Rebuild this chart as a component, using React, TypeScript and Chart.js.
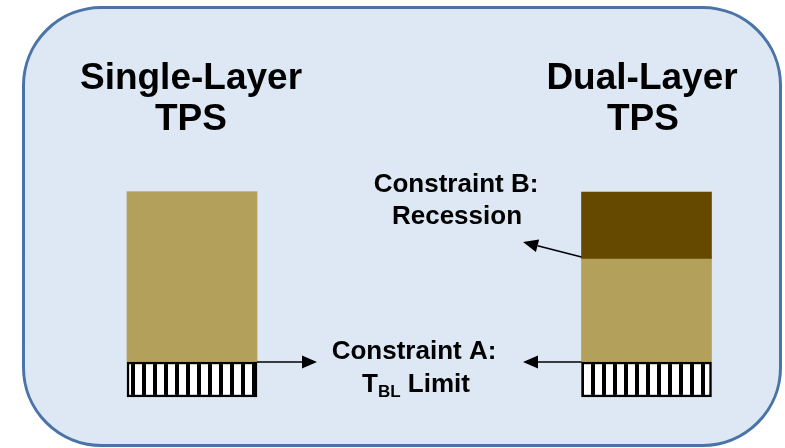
import React, { useEffect, useRef } from "react";
import { Chart, registerables } from "chart.js";

Chart.register(...registerables);

const categories = ["Single-Layer TPS", "Dual-Layer TPS"];
const tblLimit = [3.5, 3.5];
const baseLayer = [17.0, 10.3];
const recessionLayer = [0, 6.7];
const yMax = 39.7;

const FONT = '"Liberation Sans", Arial, sans-serif';

function makeStripes(offset: number): CanvasPattern | string {
  const c = document.createElement("canvas");
  c.width = 11;
  c.height = 4;
  const g = c.getContext("2d");
  if (!g) return "#000";
  g.fillStyle = "#000";
  g.fillRect(0, 0, 11, 4);
  g.fillStyle = "#fff";
  const w = 7;
  g.fillRect(offset, 0, Math.min(w, 11 - offset), 4);
  if (offset + w > 11) g.fillRect(0, 0, offset + w - 11, 4);
  const p = g.createPattern(c, "repeat");
  return p || "#000";
}

function arrow(ctx: CanvasRenderingContext2D, x1: number, y1: number, x2: number, y2: number) {
  const ang = Math.atan2(y2 - y1, x2 - x1);
  const hl = 15;
  const hw = 6.5;
  const bx = x2 - hl * Math.cos(ang);
  const by = y2 - hl * Math.sin(ang);
  ctx.save();
  ctx.strokeStyle = "#000";
  ctx.fillStyle = "#000";
  ctx.lineWidth = 1.6;
  ctx.beginPath();
  ctx.moveTo(x1, y1);
  ctx.lineTo(bx, by);
  ctx.stroke();
  ctx.beginPath();
  ctx.moveTo(x2, y2);
  ctx.lineTo(bx + hw * Math.sin(ang), by - hw * Math.cos(ang));
  ctx.lineTo(bx - hw * Math.sin(ang), by + hw * Math.cos(ang));
  ctx.closePath();
  ctx.fill();
  ctx.restore();
}

const backgroundPlugin = {
  id: "panelBg",
  beforeDraw(chart: any) {
    const ctx = chart.ctx as CanvasRenderingContext2D;
    ctx.save();
    ctx.fillStyle = "#ffffff";
    ctx.fillRect(0, 0, chart.width, chart.height);
    ctx.beginPath();
    (ctx as any).roundRect(23.5, 7.5, 757, 438, 78);
    ctx.fillStyle = "#dde8f4";
    ctx.fill();
    ctx.lineWidth = 3;
    ctx.strokeStyle = "#4a74a8";
    ctx.stroke();
    ctx.restore();
  },
};

const annotationPlugin = {
  id: "annot",
  afterDraw(chart: any) {
    const ctx = chart.ctx as CanvasRenderingContext2D;
    const xs = chart.scales.x;
    const ys = chart.scales.y;
    const half = 65;
    const leftEdgeR = xs.getPixelForValue(0) + half;
    const rightEdgeL = xs.getPixelForValue(1) - half;
    const hatchTop = ys.getPixelForValue(tblLimit[0]);
    const baseTopR = ys.getPixelForValue(tblLimit[1] + baseLayer[1]);

    ctx.save();
    ctx.fillStyle = "#000";
    ctx.textAlign = "center";
    ctx.textBaseline = "alphabetic";
    ctx.font = `bold 37px ${FONT}`;
    ctx.fillText("Single-Layer", 191, 89);
    ctx.fillText("TPS", 191, 130);
    ctx.fillText("Dual-Layer", 642, 89);
    ctx.fillText("TPS", 643, 130);

    ctx.font = `bold 26px ${FONT}`;
    ctx.fillText("Constraint B:", 456, 192);
    ctx.fillText("Recession", 457, 224);
    ctx.fillText("Constraint A:", 414, 359);

    // T_BL Limit
    const big = `bold 26px ${FONT}`;
    const small = `bold 17px ${FONT}`;
    ctx.font = big;
    const wT = ctx.measureText("T").width;
    const wL = ctx.measureText(" Limit").width;
    ctx.font = small;
    const wBL = ctx.measureText("BL").width;
    const total = wT + wBL + wL;
    let x = 416 - total / 2;
    ctx.textAlign = "left";
    ctx.font = big;
    ctx.fillText("T", x, 392);
    x += wT;
    ctx.font = small;
    ctx.fillText("BL", x, 397);
    x += wBL;
    ctx.font = big;
    ctx.fillText(" Limit", x, 392);
    ctx.restore();

    arrow(ctx, leftEdgeR, hatchTop, 317, hatchTop);
    arrow(ctx, rightEdgeL, hatchTop, 523, hatchTop);
    arrow(ctx, rightEdgeL, baseTopR - 2, 523, 242);
  },
};

export default function App() {
  const ref = useRef<HTMLCanvasElement | null>(null);
  useEffect(() => {
    if (!ref.current) return;
    const stripes = [makeStripes(3), makeStripes(1)];
    const chart = new Chart(ref.current, {
      type: "bar",
      data: {
        labels: categories,
        datasets: [
          {
            label: "T_BL Limit",
            data: tblLimit,
            backgroundColor: stripes as any,
            borderColor: "#000",
            borderWidth: 2.5,
            borderSkipped: false,
            clip: false as any,
          },
          {
            label: "Base layer",
            data: baseLayer,
            backgroundColor: "#b3a05a",
            borderWidth: 0,
            clip: false as any,
          },
          {
            label: "Recession layer",
            data: recessionLayer,
            backgroundColor: "#654900",
            borderWidth: 0,
            clip: false as any,
          },
        ],
      },
      options: {
        responsive: false,
        animation: false,
        events: [],
        layout: { padding: { left: 192, right: 138.5, top: 0, bottom: 51 } },
        datasets: { bar: { barThickness: 130 } } as any,
        plugins: { legend: { display: false }, tooltip: { enabled: false } },
        scales: {
          x: { type: "category", stacked: true, offset: false, display: false, grid: { display: false } },
          y: { type: "linear", stacked: true, min: 0, max: yMax, display: false, grid: { display: false } },
        },
      },
      plugins: [backgroundPlugin, annotationPlugin],
    });
    return () => chart.destroy();
  }, []);
  return (
    <div style={{ position: "absolute", left: 0, top: 0, width: 785, height: 448 }}>
      <canvas ref={ref} width={785} height={448} style={{ display: "block" }} />
    </div>
  );
}
